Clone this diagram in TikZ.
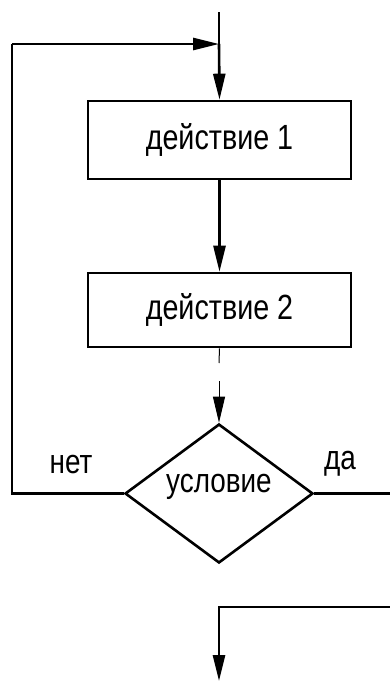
\documentclass[tikz,border=0pt]{standalone}
\usepackage{fontspec}
\setmainfont{Liberation Sans}
\newfontfamily\gost[FakeStretch=0.82]{Liberation Sans}
\usetikzlibrary{arrows.meta,shapes.geometric}
\tikzset{
  thick line/.style={line width=2.6pt},
  thin line/.style={line width=1pt},
  tip/.style={-{Triangle[length=26pt,width=12pt]}},
  actbox/.style={draw,thick line,rectangle,minimum width=263pt,inner sep=0pt,font=\gost\fontsize{35}{37}\selectfont},
  cond/.style={draw,thick line,diamond,minimum width=188pt,minimum height=139pt,inner sep=0pt},
  lbl/.style={font=\gost\fontsize{34}{36}\selectfont,inner sep=0pt}
}
\begin{document}
\begin{tikzpicture}[x=1pt,y=-1pt]
\useasboundingbox (0,0) rectangle (390,681);
\node[actbox,minimum height=78pt] (b1) at (219.5,140) {действие 1};
\node[actbox,minimum height=74pt] (b2) at (219.5,310) {действие 2};
\node[cond] (c) at (219,493.5) {};
\node[lbl] (ct) at (219,487) {условие};
\node[lbl] (no) at (71,465) {нет};
\node[lbl] (yes) at (340,464) {да};
\coordinate (top) at (219,12);
\coordinate (j) at (219,44);
\coordinate (lt) at (12,44);
\coordinate (lb) at (12,493.5);
\coordinate (re) at (391,493.5);
\coordinate (d1) at (219,363);
\coordinate (d2) at (219,381);
\coordinate (br) at (391,607);
\coordinate (bl) at (219,607);
\coordinate (bend) at (219,681);
\draw[thick line] (top) -- (j);
\draw[thick line,tip] (j) -- (b1.north);
\draw[thick line,tip] (lt) -- (j);
\draw[thick line,tip] (b1.south) -- (b2.north);
\draw[thin line] (b2.south) -- (d1);
\draw[thin line,tip] (d2) -- (c.north);
\draw[thick line] (c.west) -- (lb) -- (lt);
\draw[thick line] (c.east) -- (re);
\draw[thick line,tip] (br) -- (bl) -- (bend);
\end{tikzpicture}
\end{document}
